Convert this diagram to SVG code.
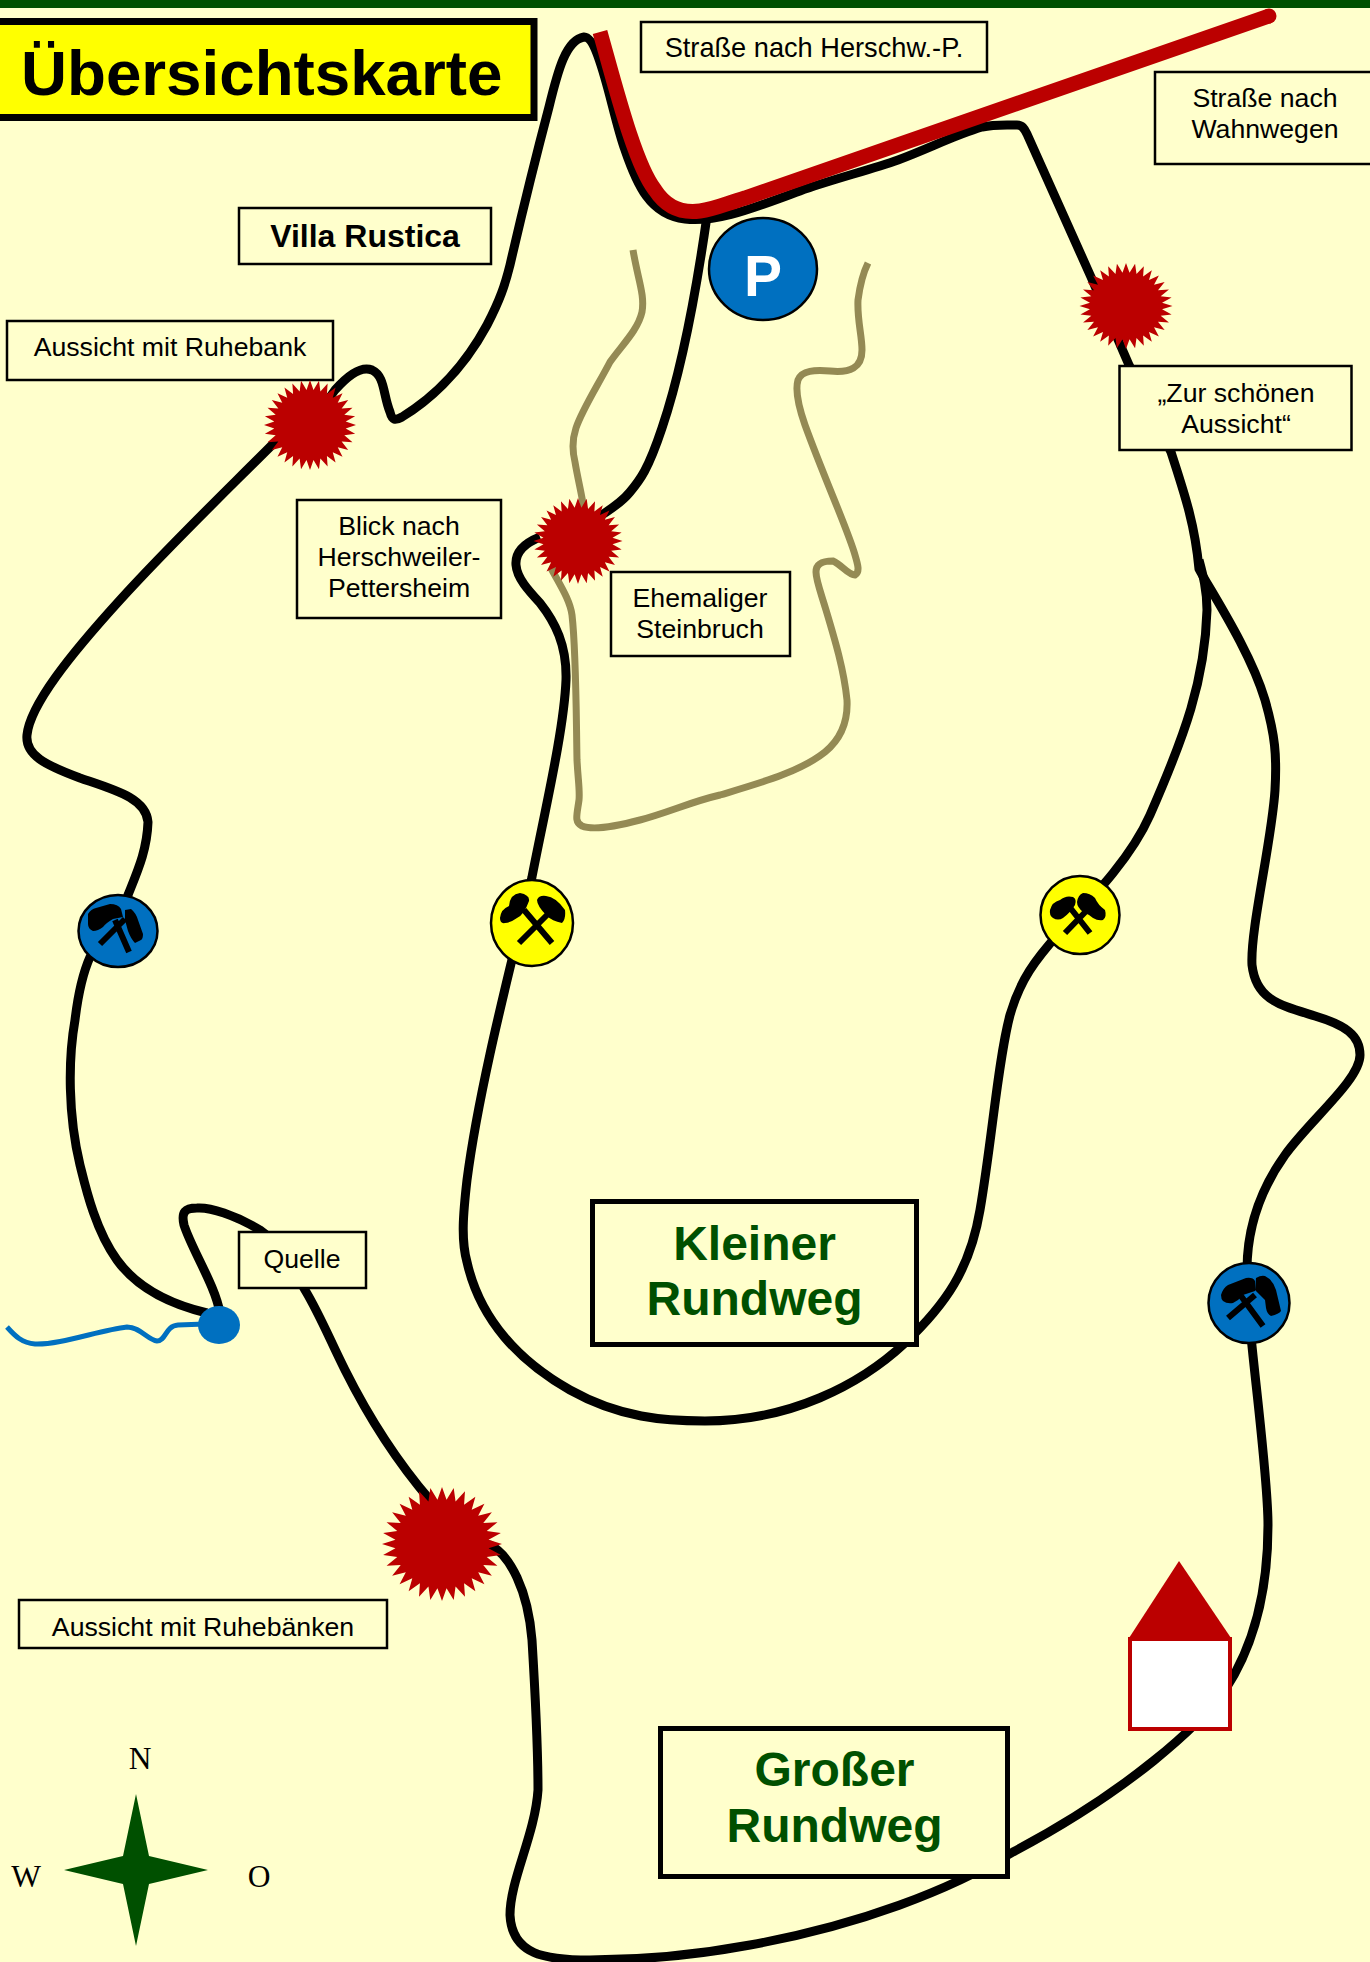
<svg xmlns="http://www.w3.org/2000/svg" xmlns:xlink="http://www.w3.org/1999/xlink" width="1370" height="1962" viewBox="0 0 1370 1962">
<style>
text{font-family:"Liberation Sans",Arial,sans-serif;fill:#000}
.lbl{font-size:26.67px;text-anchor:middle}
.box{fill:#ffffcc;stroke:#000;stroke-width:2.5}
.big{fill:#ffffcc;stroke:#000;stroke-width:5}
.rt{font-size:48px;font-weight:bold;fill:#005000;text-anchor:middle}
.cp{font-family:"Liberation Serif","Times New Roman",serif;font-size:31.5px;text-anchor:middle}
.route{fill:none;stroke:#000;stroke-width:9;stroke-linejoin:round}
.star{fill:#bb0000}
.blue{fill:#0070c0;stroke:#000;stroke-width:2.5}
.yel{fill:#ffff00;stroke:#000;stroke-width:2.5}
.handle{stroke:#000;stroke-width:6;fill:none}
</style>
<defs>
<polygon id="s" class="star" points="100,0 77.6,7.6 98.1,19.5 74.6,22.6 92.4,38.3 68.8,36.8 83.1,55.6 60.3,49.5 70.7,70.7 49.5,60.3 55.6,83.1 36.8,68.8 38.3,92.4 22.6,74.6 19.5,98.1 7.6,77.6 0,100 -7.6,77.6 -19.5,98.1 -22.6,74.6 -38.3,92.4 -36.8,68.8 -55.6,83.1 -49.5,60.3 -70.7,70.7 -60.3,49.5 -83.1,55.6 -68.8,36.8 -92.4,38.3 -74.6,22.6 -98.1,19.5 -77.6,7.6 -100,0 -77.6,-7.6 -98.1,-19.5 -74.6,-22.6 -92.4,-38.3 -68.8,-36.8 -83.1,-55.6 -60.3,-49.5 -70.7,-70.7 -49.5,-60.3 -55.6,-83.1 -36.8,-68.8 -38.3,-92.4 -22.6,-74.6 -19.5,-98.1 -7.6,-77.6 0,-100 7.6,-77.6 19.5,-98.1 22.6,-74.6 38.3,-92.4 36.8,-68.8 55.6,-83.1 49.5,-60.3 70.7,-70.7 60.3,-49.5 83.1,-55.6 68.8,-36.8 92.4,-38.3 74.6,-22.6 98.1,-19.5 77.6,-7.6"/>
</defs>
<rect width="1370" height="1962" fill="#ffffcc"/>
<rect id="topbar" width="1370" height="8" fill="#005000"/>

<g id="connectors">
<path id="river" fill="none" stroke="#0070c0" stroke-width="5" d="M7 1327 C15 1336 22 1343 35 1344 C60 1345 100 1330 127 1327 C140 1327 148 1340 157 1341 C166 1341 165 1326 178 1325 L205 1324"/>
<path id="quarry" fill="none" stroke="#948a54" stroke-width="7" d="M633 250 C638 280 645 295 642 312 C638 330 622 345 610 362 C598 385 582 410 576 428 C572 440 572 450 575 462 C578 480 582 495 584 510 L552 570 C560 585 570 600 572 615 C576 650 576 700 577 760 C578 780 580 790 579 800 C577 815 574 822 582 826 C592 830 610 828 640 820 C670 812 690 802 720 795 C760 783 800 772 825 752 C842 738 848 720 847 700 C844 670 835 640 826 610 C820 590 816 580 816 572 C816 562 825 561 833 561 C842 565 848 575 855 575 C860 572 858 565 855 555 C848 530 825 480 805 425 C798 405 795 390 798 380 C802 370 815 370 830 371 C850 373 862 368 862 350 C862 335 857 320 858 300 C860 285 862 275 868 263"/>
<path id="grosser" class="route" d="M207 1313 C165 1303 135 1285 117 1260 C95 1230 85 1185 80 1165 C68 1115 68 1060 75 1020 C78 995 82 975 90 957 L118 931 L128 895 C138 870 147 850 148 822 C146 798 115 790 80 778 C45 765 25 755 27 735 C30 705 70 655 120 600 C170 545 220 497 272 445 L310 425 L335 390 C350 373 362 366 372 370 C385 376 383 395 390 412 C392 420 395 421 402 417 C425 403 460 375 487 325 C500 300 505 285 510 265 C525 200 535 160 549 107 C558 70 566 40 584 37 C600 36 612 115 625 150 C637 185 650 215 685 219 C720 223 760 205 800 191 C830 180 870 170 898 160 C930 148 955 135 982 127 C995 124 1010 125 1017 125 C1022 125 1024 128 1027 134 L1091 277 L1129 365 L1171 452 C1185 495 1195 525 1199 569 C1210 590 1250 650 1265 700 C1275 735 1277 755 1275 790 C1272 840 1250 930 1252 965 C1256 1000 1280 1005 1315 1016 C1345 1025 1360 1035 1360 1055 C1360 1080 1310 1120 1285 1155 C1260 1190 1247 1230 1247 1270 L1248 1300 C1250 1345 1268 1470 1268 1525 C1268 1580 1258 1640 1225 1690 C1200 1725 1130 1790 1013 1852 C950 1890 860 1925 750 1945 C680 1958 620 1960 590 1960 C545 1960 512 1955 510 1915 C510 1880 535 1835 538 1790 C538 1745 535 1690 532 1640 C528 1590 510 1555 490 1545 L442 1544 L430 1500 C400 1465 370 1420 345 1370 C330 1340 320 1315 305 1290 C295 1270 275 1240 260 1230 C235 1215 210 1207 197 1208 C185 1208 181 1212 184 1225 C192 1250 215 1285 220 1313"/>
<path id="kleiner-a" class="route" d="M707 216 C695 300 680 375 662 428 C648 470 640 480 630 492 C622 502 610 510 597 518"/>
<path id="kleiner-b" class="route" d="M540 537 C525 543 515 552 516 565 C517 578 528 590 540 603 C555 622 567 645 566 680 C564 730 545 810 532 877 C515 950 480 1080 467 1180 C463 1215 461 1240 467 1262 C480 1320 520 1362 570 1390 C620 1418 665 1421 705 1421 C790 1421 860 1385 905 1343 C945 1305 970 1270 980 1210 C992 1140 998 1060 1010 1015 C1020 980 1035 960 1060 932 C1090 900 1130 860 1150 815 C1185 735 1205 680 1207 610 C1207 590 1203 575 1199 560"/>
<path id="road" fill="none" stroke="#bb0000" stroke-width="15" stroke-linecap="butt" d="M600 32 C615 85 635 165 655 190 C668 210 685 213 700 211 C715 209 725 204 745 198 L1269 16"/>
<circle cx="1269" cy="16" r="7.5" fill="#bb0000"/>
</g>

<g id="title"><rect x="-10" y="21.5" width="544" height="96" fill="#ffff00" stroke="#000" stroke-width="7"/><text x="21" y="95" font-size="63.7" font-weight="bold">Übersichtskarte</text></g>
<g id="villa"><rect class="box" x="239" y="208" width="252" height="56"/><text x="365" y="247" font-size="32" font-weight="bold" text-anchor="middle">Villa Rustica</text></g>
<g id="herschw"><rect class="box" x="641" y="22" width="346" height="50"/><text class="lbl" style="font-size:27.2px" x="814" y="57">Straße nach Herschw.-P.</text></g>
<g id="wahnwegen"><rect class="box" x="1155" y="72" width="230" height="92"/><text class="lbl" x="1265" y="107">Straße nach</text><text class="lbl" x="1265" y="138">Wahnwegen</text></g>
<g id="aussicht-bank"><rect class="box" x="7" y="321" width="326" height="59"/><text class="lbl" x="170" y="356">Aussicht mit Ruhebank</text></g>
<g id="zur-schoenen"><rect class="box" x="1119.5" y="366" width="232" height="84"/><text class="lbl" x="1236" y="402">„Zur schönen</text><text class="lbl" x="1236" y="433">Aussicht“</text></g>
<g id="blick"><rect class="box" x="297" y="500" width="204" height="118"/><text class="lbl" x="399" y="535">Blick nach</text><text class="lbl" x="399" y="566">Herschweiler-</text><text class="lbl" x="399" y="597">Pettersheim</text></g>
<g id="steinbruch"><rect class="box" x="611" y="572" width="179" height="84"/><text class="lbl" x="700" y="607">Ehemaliger</text><text class="lbl" x="700" y="638">Steinbruch</text></g>
<g id="quelle-label"><rect class="box" x="239" y="1232" width="127" height="56"/><text class="lbl" x="302" y="1268">Quelle</text></g>
<g id="aussicht-baenke"><rect class="box" x="19" y="1600" width="368" height="48"/><text class="lbl" x="203" y="1636">Aussicht mit Ruhebänken</text></g>
<g id="kleiner-rundweg"><rect class="big" x="592.500" y="1201.500" width="324" height="143"/><text class="rt" x="754.500" y="1260">Kleiner</text><text class="rt" x="754.500" y="1315">Rundweg</text></g>
<g id="grosser-rundweg"><rect class="big" x="660.500" y="1728.500" width="347" height="148"/><text class="rt" x="834.500" y="1786">Großer</text><text class="rt" x="834.500" y="1842">Rundweg</text></g>

<g id="parking"><ellipse class="blue" cx="763" cy="269" rx="54" ry="51"/><text x="763" y="296" font-size="57" font-weight="bold" style="fill:#fff" text-anchor="middle">P</text></g>

<g id="spring"><ellipse cx="219" cy="1325" rx="21" ry="19" fill="#0070c0"/></g>

<g id="star-1"><use xlink:href="#s" href="#s" transform="translate(310 425) scale(.46 .45)"/></g>
<g id="star-2"><use xlink:href="#s" href="#s" transform="translate(1126 306) scale(.465 .43)"/></g>
<g id="star-3"><use xlink:href="#s" href="#s" transform="translate(578 541) scale(.445 .43)"/></g>
<g id="star-4"><use xlink:href="#s" href="#s" transform="translate(442 1544) scale(.6 .57)"/></g>

<g id="mine-blue-1" transform="translate(118 931)"><ellipse class="blue" rx="39.500" ry="36"/><path class="handle" d="M-18 13 L7 -12 M11 21 L-3 -11"/><path d="M-30 -17 Q-27 -22 -22 -23 L-8 -27 Q0 -27 3 -22 L5 -14 L-5 -12 Q-12 -8 -15 -4 Q-20 0 -25 0 Q-30 -2 -30 -7 Z M7 -21 L13 -22 Q18 -18 20 -11 L25 3 Q25 8 23 9 L17 12 Q13 8 10 0 L7 -11 Z"/></g>
<g id="mine-yellow-2" transform="translate(532 923)"><ellipse class="yel" rx="41" ry="43"/><path class="handle" d="M-13 20 L17 -10 M20 20 L-8 -13"/><path d="M-32 -5 Q-31 -14 -23 -17 Q-22 -29 -12 -30 Q-2 -28 -3 -22 Q-8 -8 -15 -5 Q-22 0 -27 0 Q-32 1 -32 -5 Z M5 -23 Q7 -28 14 -27 Q24 -26 33 -13 Q34 -4 30 0 Q20 -2 15 -7 Q5 -17 5 -23 Z"/></g>
<g id="mine-yellow-3" transform="translate(1080 915)"><ellipse class="yel" rx="39.500" ry="39"/><path class="handle" d="M-15 18 L12 -10 M10 18 L-12 -10"/><path d="M-30 -5 Q-28 -13 -20 -15 Q-14 -20 -7 -18 Q-3 -16 -5 -10 Q-10 -2 -17 3 Q-22 6 -27 3 Q-31 0 -30 -5 Z M-3 -13 Q-2 -20 3 -22 Q10 -22 15 -17 Q18 -10 25 -5 Q27 2 23 5 Q18 6 13 3 Q8 -1 3 -3 Q-3 -8 -3 -13 Z"/></g>
<g id="mine-blue-4" transform="translate(1249 1303)"><ellipse class="blue" rx="40.500" ry="40"/><path class="handle" d="M-21 15 L6 -8 M14 23 L-8 -7"/><path d="M-28 -8 Q-26 -15 -21 -18 L-3 -25 Q4 -26 6 -22 L6 -12 L-6 -8 Q-10 -3 -16 0 Q-22 1 -26 -2 Q-28 -4 -28 -8 Z M7 -25 Q12 -28 16 -27 Q24 -23 27 -13 L32 8 Q30 11 22 13 Q18 11 17 5 L16 -3 L6 -13 Z"/></g>

<g id="house"><polygon points="1179,1561 1129,1638 1231,1638" fill="#bb0000"/><rect x="1130" y="1639" width="100" height="90" fill="#fff" stroke="#bb0000" stroke-width="4"/></g>

<g id="compass"><polygon points="136,1794 149,1856 208,1870 149,1884 136,1946 123,1884 64,1870 123,1856" fill="#005000"/><text class="cp" x="140" y="1769">N</text><text class="cp" x="26" y="1887">W</text><text class="cp" x="259" y="1887">O</text></g>
</svg>
